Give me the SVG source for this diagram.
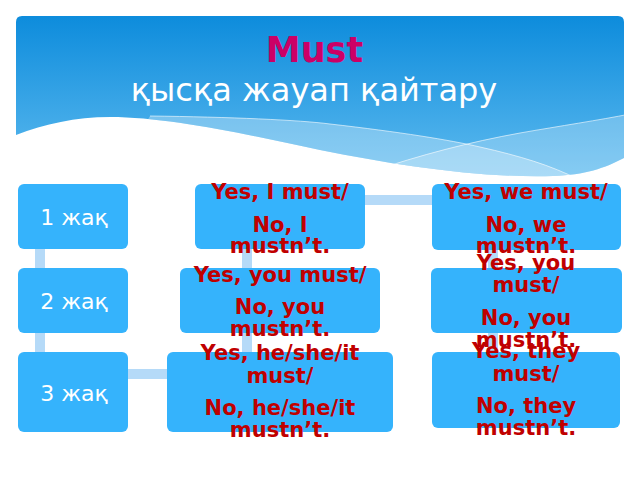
<svg xmlns="http://www.w3.org/2000/svg" width="640" height="480" viewBox="0 0 640 480">
<defs>
<linearGradient id="hg" x1="0" y1="0" x2="0" y2="1">
<stop offset="0" stop-color="#0d8cdc"/>
<stop offset="1" stop-color="#62bdf0"/>
</linearGradient>
<clipPath id="hc">
<path d="M16,22 Q16,16 22,16 H618 Q624,16 624,22 V158 C605,168 585,175 553,176 C480,178 400,166 320,150 C250,135 170,117 110,117 C75,117 45,124 16,135 Z"/>
</clipPath>
<style>
.box{fill:#35b3fc}
.con{fill:#b5daf8}
.lbl{font-family:"DejaVu Sans","Noto Sans",sans-serif;font-size:22px;fill:#ffffff;text-anchor:middle}
.ans{font-family:"DejaVu Sans","Noto Sans",sans-serif;font-size:21px;font-weight:bold;fill:#c00000;text-anchor:middle}
</style>
</defs>
<rect width="640" height="480" fill="#ffffff"/>
<g id="header">
<g clip-path="url(#hc)">
<rect x="16" y="16" width="608" height="170" fill="url(#hg)"/>
<path d="M150,116 C230,117 300,120 330,124 C400,132 450,140 480,147 C520,156 550,165 580,180 L640,190 V200 H100 Z" fill="#ffffff" fill-opacity="0.3"/>
<path d="M370,172 C420,155 470,142 520,133 C560,126 600,120 630,114 V200 H370 Z" fill="#ffffff" fill-opacity="0.25"/>
<path d="M150,116 C230,117 300,120 330,124 C400,132 450,140 480,147 C520,156 550,165 580,180" fill="none" stroke="#ffffff" stroke-opacity="0.6" stroke-width="1"/>
<path d="M370,172 C420,155 470,142 520,133 C560,126 600,120 630,114" fill="none" stroke="#ffffff" stroke-opacity="0.6" stroke-width="1"/>
</g>
<text x="314.5" y="62" font-family="DejaVu Sans, sans-serif" font-size="35" font-weight="bold" fill="#cc0066" text-anchor="middle">Must</text>
<text x="314" y="101" font-family="DejaVu Sans, sans-serif" font-size="32" fill="#ffffff" text-anchor="middle">қысқа жауап қайтару</text>
</g>
<g id="connectors">
<rect class="con" x="35" y="249" width="10" height="19"/>
<rect class="con" x="35" y="333" width="10" height="19"/>
<rect class="con" x="128" y="369" width="39" height="10"/>
<rect class="con" x="242" y="333" width="10" height="19"/>
<rect class="con" x="242" y="249" width="10" height="19"/>
<rect class="con" x="365" y="195" width="67" height="10"/>
<rect class="con" x="488" y="250" width="10" height="18"/>
<rect class="con" x="488" y="333" width="10" height="19"/>
</g>
<g id="n1">
<rect class="box" x="18" y="184" width="110" height="65" rx="6"/>
<text class="lbl" x="74" y="225">1 жақ</text>
</g>
<g id="n2">
<rect class="box" x="18" y="268" width="110" height="65" rx="6"/>
<text class="lbl" x="74" y="309">2 жақ</text>
</g>
<g id="n3">
<rect class="box" x="18" y="352" width="110" height="80" rx="6"/>
<text class="lbl" x="74" y="401">3 жақ</text>
</g>
<g id="n-i">
<rect class="box" x="195" y="184" width="170" height="65" rx="6"/>
<text class="ans" x="280" y="199">Yes, I must/</text>
<text class="ans" x="280" y="232">No, I</text>
<text class="ans" x="280" y="253">mustn’t.</text>
</g>
<g id="n-we">
<rect class="box" x="432" y="184" width="189" height="66" rx="6"/>
<text class="ans" x="526" y="199">Yes, we must/</text>
<text class="ans" x="526" y="232">No, we</text>
<text class="ans" x="526" y="253">mustn’t.</text>
</g>
<g id="n-you">
<rect class="box" x="180" y="268" width="200" height="65" rx="6"/>
<text class="ans" x="280" y="282">Yes, you must/</text>
<text class="ans" x="280" y="314">No, you</text>
<text class="ans" x="280" y="336">mustn’t.</text>
</g>
<g id="n-youpl">
<rect class="box" x="431" y="268" width="191" height="65" rx="6"/>
<text class="ans" x="526" y="270">Yes, you</text>
<text class="ans" x="526" y="292">must/</text>
<text class="ans" x="526" y="325">No, you</text>
<text class="ans" x="526" y="347">mustn’t.</text>
</g>
<g id="n-he">
<rect class="box" x="167" y="352" width="226" height="80" rx="6"/>
<text class="ans" x="280" y="360">Yes, he/she/it</text>
<text class="ans" x="280" y="383">must/</text>
<text class="ans" x="280" y="415">No, he/she/it</text>
<text class="ans" x="280" y="437">mustn’t.</text>
</g>
<g id="n-they">
<rect class="box" x="432" y="352" width="188" height="76" rx="6"/>
<text class="ans" x="526" y="358">Yes, they</text>
<text class="ans" x="526" y="381">must/</text>
<text class="ans" x="526" y="413">No, they</text>
<text class="ans" x="526" y="435">mustn’t.</text>
</g>
</svg>
